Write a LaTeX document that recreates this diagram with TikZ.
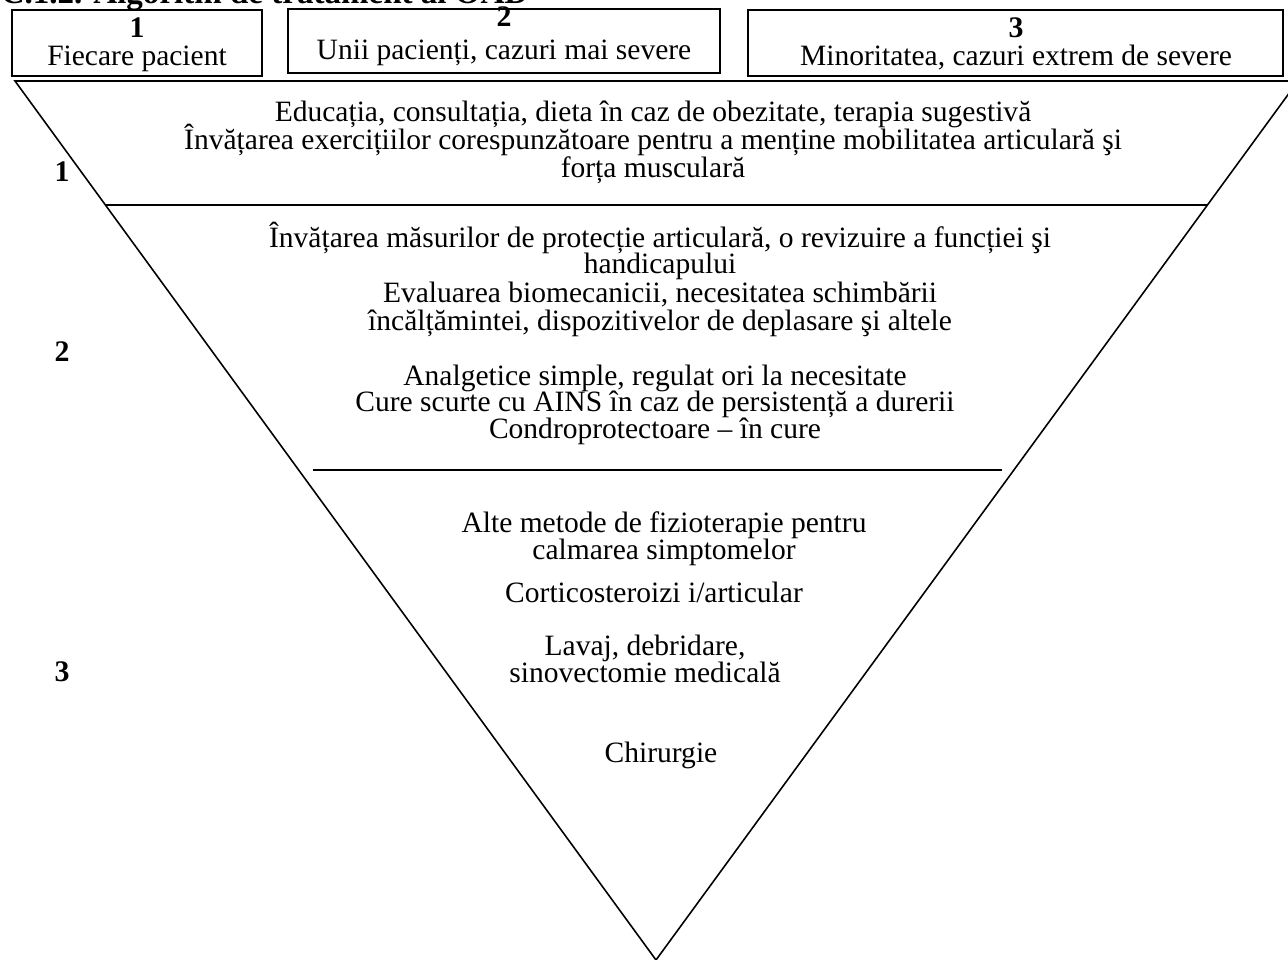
\documentclass[tikz,border=0pt]{standalone}
\usepackage{fontspec}
\setmainfont{Liberation Serif}
\usetikzlibrary{calc}
\newcommand\levelfont[1]{\fontsize{16.8}{#1}\selectfont\lineskiplimit=-20pt\relax}
\tikzset{
  txt/.style={align=center,inner sep=0pt,anchor=base,font=\levelfont{#1}},
  txt/.default=15.3,
  num/.style={inner sep=0pt,font=\fontsize{17}{17}\selectfont\bfseries},
}
\begin{document}
\begin{tikzpicture}[x=0.02cm,y=-0.02cm,line width=0.9pt]
\useasboundingbox (0,0) rectangle (1288,960);
% title, cut by the page edge
\node[num,anchor=base west,font=\fontsize{18.8}{19}\selectfont\bfseries] (title) at (0,4) {C.1.2. Algoritm de tratament al OAD};
% boxes on top
\draw (12,10) rectangle (262,76);
\draw (288,9) rectangle (720,73);
\draw (748,10) rectangle (1283,76);
\node[num,anchor=base] (n1) at (137,37) {1};
\node[txt] (b1) at (137,65) {Fiecare pacient};
\node[num,anchor=base] (n2) at (504,27) {2};
\node[txt] (b2) at (504,59) {Unii pacienți, cazuri mai severe};
\node[num,anchor=base] (n3) at (1016,37) {3};
\node[txt] (b3) at (1016,65) {Minoritatea, cazuri extrem de severe};
% triangle
\coordinate (tl) at (15,81);
\coordinate (tr) at (1298,81);
\coordinate (ap) at (656,960);
\draw (tl) -- (tr) -- (ap) -- cycle;
\draw ($(tl)!124/879!(ap)$) -- ($(tr)!124/879!(ap)$);
\coordinate (sl) at (313,470);
\coordinate (sr) at (1002,470);
\draw (sl) -- (sr);
% levels
\node[num] (l1) at (62,172) {1};
\node[num] (l2) at (62,352) {2};
\node[num] (l3) at (62,672) {3};
% texts (anchored on the baseline of their last line)
\node[txt=15.9] (edu) at (653,177) {Educația, consultația, dieta în caz de obezitate, terapia sugestivă\\Învățarea exercițiilor corespunzătoare pentru a menține mobilitatea articulară şi\\forța musculară};
\node[txt=14.7] (prot) at (660,273) {Învățarea măsurilor de protecție articulară, o revizuire a funcției şi\\handicapului};
\node[txt=15.9] (biom) at (660,330) {Evaluarea biomecanicii, necesitatea schimbării\\încălțămintei, dispozitivelor de deplasare şi altele};
\node[txt=15] (analg) at (655,438) {Analgetice simple, regulat ori la necesitate\\Cure scurte cu AINS în caz de persistență a durerii\\Condroprotectoare – în cure};
\node[txt] (fizio) at (664,559) {Alte metode de fizioterapie pentru\\calmarea simptomelor};
\node[txt] (cort) at (654,602) {Corticosteroizi i/articular};
\node[txt] (lavaj) at (645,682) {Lavaj, debridare,\\sinovectomie medicală};
\node[txt] (chir) at (661,762) {Chirurgie};
\end{tikzpicture}
\end{document}
